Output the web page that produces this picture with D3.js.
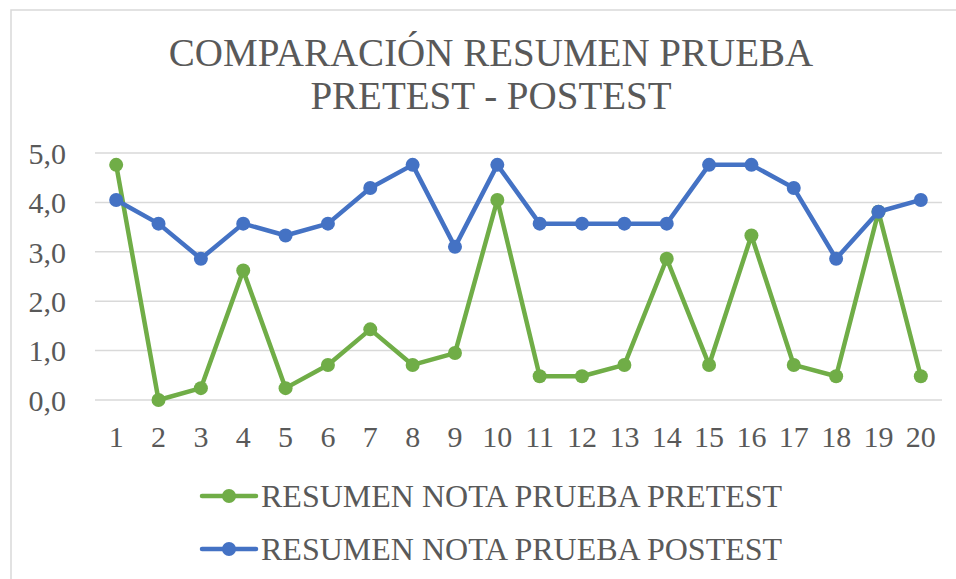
<!DOCTYPE html>
<html>
<head>
<meta charset="utf-8">
<script src="https://cdn.jsdelivr.net/npm/d3@7"></script>
</head>
<body style="margin:0">
<script>
// datos
const categories = d3.range(1, 21);
const pretest = [4.76, 0.0, 0.24, 2.62, 0.24, 0.71, 1.43, 0.71, 0.95, 4.05,
                 0.48, 0.48, 0.71, 2.86, 0.71, 3.33, 0.71, 0.48, 3.81, 0.48];
const postest = [4.05, 3.57, 2.86, 3.57, 3.33, 3.57, 4.29, 4.76, 3.10, 4.76,
                 3.57, 3.57, 3.57, 3.57, 4.76, 4.76, 4.29, 2.86, 3.81, 4.05];
const yTicks = [0, 1, 2, 3, 4, 5];
const seriesNames = ['RESUMEN NOTA PRUEBA PRETEST', 'RESUMEN NOTA PRUEBA POSTEST'];
const colors = ['#70ad47', '#4472c4'];

const fontFam = 'Times New Roman';
const textColor = '#595959';

const width = 956, height = 579;
const svg = d3.select('body').append('svg')
  .attr('width', width)
  .attr('height', height);

// borde del gráfico
svg.append('rect')
  .attr('x', 11).attr('y', 10)
  .attr('width', 960).attr('height', 600)
  .attr('fill', 'none')
  .attr('stroke', '#d9d9d9')
  .attr('stroke-width', 1.5);

// titulo
svg.selectAll('.title')
  .data(['COMPARACIÓN RESUMEN PRUEBA', 'PRETEST - POSTEST'])
  .enter().append('text')
  .attr('class', 'title')
  .attr('x', 491).attr('y', (d, i) => 66 + i * 43)
  .attr('text-anchor', 'middle')
  .attr('font-family', fontFam)
  .attr('font-size', 39)
  .attr('fill', textColor)
  .text(d => d);

// escalas
const x = d3.scaleBand().domain(categories).range([95, 942]);
const y = d3.scaleLinear().domain([0, 5]).range([400, 153]);

// lineas de cuadricula
svg.append('g')
  .selectAll('line')
  .data(yTicks)
  .enter().append('line')
  .attr('x1', 95).attr('x2', 942)
  .attr('y1', d => y(d)).attr('y2', d => y(d))
  .attr('stroke', '#d9d9d9')
  .attr('stroke-width', 1.5);

// eje Y
const yAxis = svg.append('g')
  .attr('transform', 'translate(95,0)')
  .call(d3.axisLeft(y).tickValues(yTicks).tickSize(0).tickPadding(29)
    .tickFormat(d => d3.format('.1f')(d).replace('.', ',')));
yAxis.select('.domain').remove();
yAxis.attr('font-family', null).attr('font-size', null);
yAxis.selectAll('text')
  .attr('font-family', fontFam).attr('font-size', 30)
  .attr('fill', textColor).attr('dy', '0.34em');

// eje X
const xAxis = svg.append('g')
  .attr('transform', 'translate(0,400)')
  .call(d3.axisBottom(x).tickSize(0));
xAxis.select('.domain').remove();
xAxis.attr('font-family', null).attr('font-size', null);
xAxis.selectAll('text')
  .attr('font-family', fontFam).attr('font-size', 30)
  .attr('fill', textColor).attr('y', 47).attr('dy', 0);

// series
const line = d3.line()
  .x((d, i) => x(categories[i]) + x.bandwidth() / 2)
  .y(d => y(d));

[pretest, postest].forEach((values, k) => {
  const g = svg.append('g');
  g.append('path')
    .datum(values)
    .attr('d', line)
    .attr('fill', 'none')
    .attr('stroke', colors[k])
    .attr('stroke-width', 4.5)
    .attr('stroke-linejoin', 'round');
  g.selectAll('circle')
    .data(values)
    .enter().append('circle')
    .attr('cx', (d, i) => x(categories[i]) + x.bandwidth() / 2)
    .attr('cy', d => y(d))
    .attr('r', 7)
    .attr('fill', colors[k]);
});

// leyenda
const legend = svg.append('g')
  .selectAll('g')
  .data(seriesNames)
  .enter().append('g')
  .attr('transform', (d, i) => `translate(200,${496 + i * 53})`);
legend.append('line')
  .attr('x1', 2).attr('x2', 56)
  .attr('stroke', (d, i) => colors[i])
  .attr('stroke-width', 4.5)
  .attr('stroke-linecap', 'round');
legend.append('circle')
  .attr('cx', 29).attr('r', 7)
  .attr('fill', (d, i) => colors[i]);
legend.append('text')
  .attr('x', 61).attr('y', 11)
  .attr('font-family', fontFam)
  .attr('fill', textColor)
  .attr('font-size', 32)
  .text(d => d);
</script>
</body>
</html>
